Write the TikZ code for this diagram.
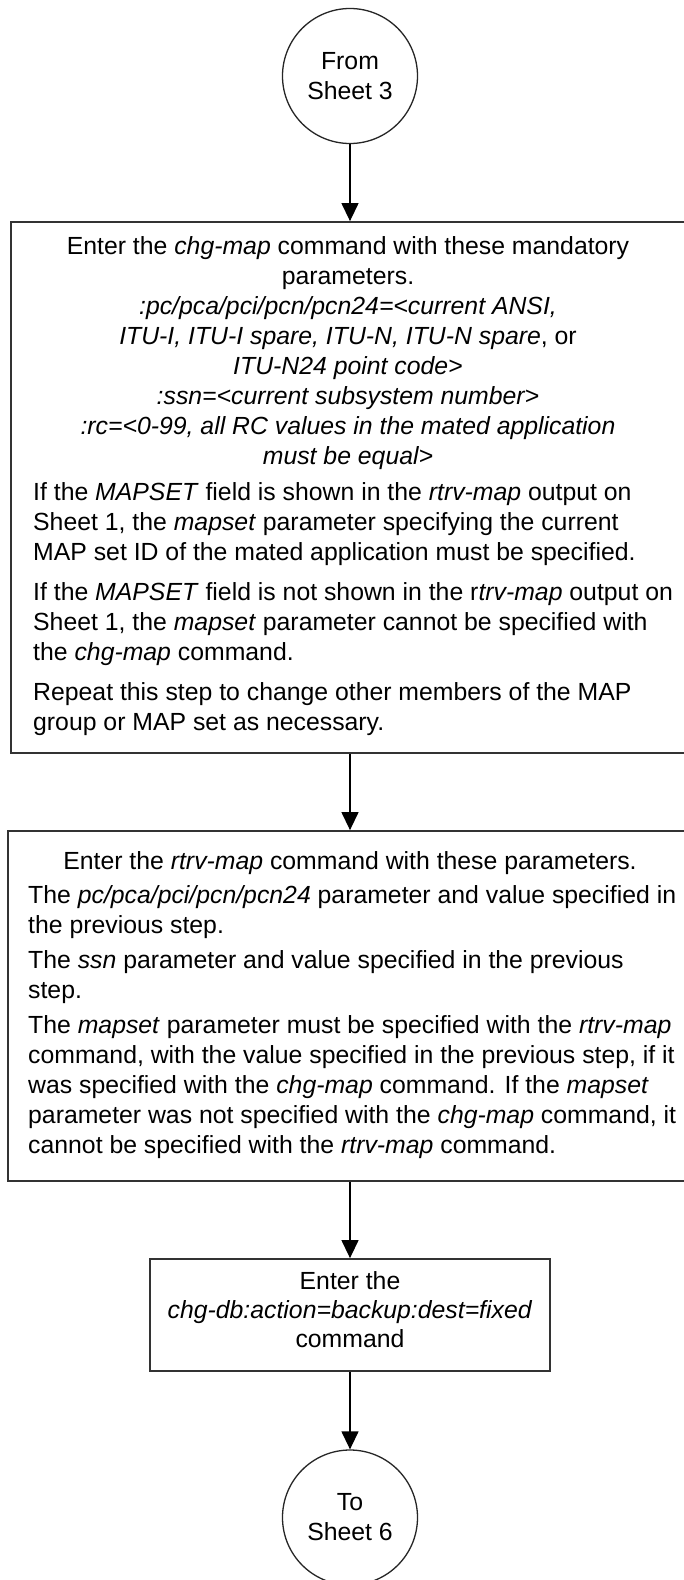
\documentclass[tikz,border=0pt]{standalone}
\usepackage{fontspec}
\setmainfont{Liberation Sans}
\usetikzlibrary{arrows.meta}
\begin{document}
\begin{tikzpicture}[x=1pt,y=-1pt,
  fs/.style={font=\fontsize{24.8}{30}\selectfont},
  stepbox/.style={draw=black!80, line width=1.8pt, rectangle, inner sep=0pt},
  conn/.style={draw=black, line width=1.3pt, -{Triangle[length=18pt,width=17pt]}},
  endpt/.style={circle, draw=black!85, line width=1.3pt, minimum size=135pt, inner sep=0pt, align=center, fs},
  txt/.style={inner sep=0pt, fs}]
\useasboundingbox (0,0) rectangle (683,1580);
\fill[white] (0,0) rectangle (683,1580);

% terminals
\node[endpt] (c1) at (350,76) {From\\Sheet 3};
\node[endpt] (c2) at (350,1517.5) {To\\Sheet 6};

% boxes
\node[stepbox, minimum width=678pt, minimum height=531pt] (b1) at (350,487.5) {};
\node[stepbox, minimum width=684pt, minimum height=350pt] (b2) at (350,1006) {};
\node[stepbox, minimum width=400pt, minimum height=112pt] (b3) at (350,1315) {};

% box 1 text
\node[txt, align=center, anchor=north] (t1a) at (348,236.6) {Enter the \textit{chg-map} command with these mandatory\\
parameters.\\
\textit{:pc/pca/pci/pcn/pcn24=<current ANSI,}\\
\textit{ITU-I, ITU-I spare, ITU-N, ITU-N spare}, or\\
\textit{ITU-N24 point code>}\\
\textit{:ssn=<current subsystem number>}\\
\textit{:rc=<0-99, all RC values in the mated application}\\
\textit{must be equal>}};
\node[txt, align=left, anchor=north west] (t1b) at (33,482.6) {If the \textit{MAPSET} field is shown in the \textit{rtrv-map} output on\\
Sheet 1, the \textit{mapset} parameter specifying the current\\
MAP set ID of the mated application must be specified.\\[10pt]
If the \textit{MAPSET} field is not shown in the r\textit{trv-map} output on\\
Sheet 1, the \textit{mapset} parameter cannot be specified with\\
the \textit{chg-map} command.\\[10pt]
Repeat this step to change other members of the MAP\\
group or MAP set as necessary.};

% box 2 text
\node[txt, anchor=north] (t2a) at (350,851.6) {Enter the \textit{rtrv-map} command with these parameters.};
\node[txt, align=left, anchor=north west] (t2b) at (28,885.6) {The \textit{pc/pca/pci/pcn/pcn24} parameter and value specified in\\
the previous step.\\[5pt]
The \textit{ssn} parameter and value specified in the previous\\
step.\\[5pt]
The \textit{mapset} parameter must be specified with the \textit{rtrv-map}\\
command, with the value specified in the previous step, if it\\
was specified with the \textit{chg-map} command. If the \textit{mapset}\\
parameter was not specified with the \textit{chg-map} command, it\\
cannot be specified with the \textit{rtrv-map} command.};

% box 3 text
\node[txt, align=center, anchor=north, font=\fontsize{24.8}{29}\selectfont] (t3) at (350,1271.6) {Enter the\\
\textit{chg-db:action=backup:dest=fixed}\\
command};

% connectors
\draw[conn] (c1.south) -- (b1.north);
\draw[conn] (b1.south) -- (b2.north);
\draw[conn] (b2.south) -- (b3.north);
\draw[conn] (b3.south) -- (c2.north);
\end{tikzpicture}
\end{document}
